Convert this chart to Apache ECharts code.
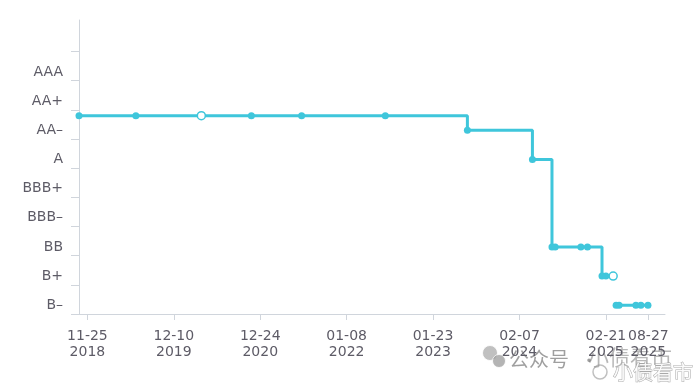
<!DOCTYPE html>
<html>
<head>
<meta charset="utf-8">
<script src="https://cdn.jsdelivr.net/npm/echarts@6/dist/echarts.min.js"></script>
<style>html,body{margin:0;padding:0;background:#fff;}#c{width:700px;height:386px;}</style>
</head>
<body>
<div id="c"></div>
<script>
// ---- data ----
const ratingScale = { 'B-': 1, 'B+': 2, 'BB': 3, 'BBB-': 4, 'BBB+': 5, 'A': 6, 'AA-': 7, 'AA': 7.5, 'AA+': 8, 'AAA': 9 };
const yLabelValues = [1, 2, 3, 4, 5, 6, 7, 8, 9];
const yLabelNames = ['B–', 'B+', 'BB', 'BBB–', 'BBB+', 'A', 'AA–', 'AA+', 'AAA'];
const yTickValues = [0.7, 1.7, 2.7, 3.7, 4.7, 5.7, 6.7, 7.7, 8.7, 9.7];
const xTickDates = ['2018-11-25', '2019-12-10', '2020-12-24', '2022-01-08', '2023-01-23', '2024-02-07', '2025-02-21', '2025-08-27'];

const dates1 = ['2018-10-19', '2019-06-26', '2020-04-09', '2020-11-15', '2021-06-24', '2022-06-27', '2023-06-23', '2024-04-04', '2024-06-29', '2024-07-13', '2024-11-03', '2024-12-02', '2025-02-04', '2025-02-21', '2025-03-25'];
const ratings1 = ['AA', 'AA', 'AA', 'AA', 'AA', 'AA', 'AA-', 'A', 'BB', 'BB', 'BB', 'BB', 'B+', 'B+', 'B+'];
const hollow1 = [2, 14];
const dates2 = ['2025-04-07', '2025-04-20', '2025-07-03', '2025-07-25', '2025-08-25'];
const ratings2 = ['B-', 'B-', 'B-', 'B-', 'B-'];
const axisMinDate = '2018-10-19';
const axisMaxDate = '2025-11-08';

// ---- chart ----
const C = '#3fc6db';
const LABEL = '#5d5b66';
const AX = '#d0d5dc';
const FONT = '"DejaVu Sans", sans-serif';
const CJK = '"Noto Sans CJK SC", sans-serif';
const ts = s => { const [y, m, d] = s.split('-').map(Number); return Date.UTC(y, m - 1, d); };
const pad = n => (n < 10 ? '0' : '') + n;

function build(dates, ratings, hollow) {
  return dates.map((d, i) => {
    const item = { value: [ts(d), ratingScale[ratings[i]]] };
    if (hollow && hollow.indexOf(i) >= 0) {
      item.symbolSize = 8;
      item.itemStyle = { color: '#fff', borderColor: C, borderWidth: 1.5 };
    }
    return item;
  });
}

const chart = echarts.init(document.getElementById('c'), null, { renderer: 'canvas' });
chart.setOption({
  backgroundColor: '#fff',
  animation: false,
  grid: { left: 79, right: 35, top: 20, bottom: 72, containLabel: false },
  xAxis: {
    type: 'value',
    min: ts(axisMinDate),
    max: ts(axisMaxDate),
    splitLine: { show: false },
    axisLine: { lineStyle: { color: AX, width: 1 } },
    axisTick: { show: true, length: 6, lineStyle: { color: AX }, customValues: xTickDates.map(ts) },
    axisLabel: {
      customValues: xTickDates.map(ts),
      margin: 14,
      color: LABEL,
      fontSize: 14,
      lineHeight: 16,
      fontFamily: FONT,
      hideOverlap: false,
      formatter: v => { const d = new Date(v); return pad(d.getUTCMonth() + 1) + '-' + pad(d.getUTCDate()) + '\n' + d.getUTCFullYear(); }
    }
  },
  yAxis: {
    type: 'value',
    min: 0.7,
    max: 10.78,
    splitLine: { show: false },
    axisLine: { show: true, lineStyle: { color: AX, width: 1 } },
    axisTick: { show: true, length: 8, lineStyle: { color: AX }, customValues: yTickValues },
    axisLabel: {
      customValues: yLabelValues,
      margin: 16,
      color: LABEL,
      fontSize: 14,
      fontFamily: FONT,
      formatter: v => { const i = yLabelValues.indexOf(Math.round(v)); return i >= 0 ? yLabelNames[i] : ''; }
    }
  },
  series: [
    {
      type: 'line', step: 'end', clip: false, data: build(dates1, ratings1, hollow1),
      symbol: 'circle', symbolSize: 7,
      lineStyle: { color: C, width: 3 }, itemStyle: { color: C }
    },
    {
      type: 'line', clip: false, data: build(dates2, ratings2, null),
      symbol: 'circle', symbolSize: 7,
      lineStyle: { color: C, width: 3 }, itemStyle: { color: C }
    }
  ],
  graphic: [
    { type: 'circle', shape: { cx: 490, cy: 353, r: 7.5 }, style: { fill: 'rgba(140,140,140,0.55)', stroke: 'rgba(255,255,255,0.8)', lineWidth: 1 } },
    { type: 'circle', shape: { cx: 499, cy: 361, r: 6.5 }, style: { fill: 'rgba(130,130,130,0.6)', stroke: 'rgba(255,255,255,0.8)', lineWidth: 1 } },
    { type: 'text', x: 509, y: 359, style: { text: '公众号', verticalAlign: 'middle', fill: 'rgba(95,95,95,0.6)', font: '20px ' + CJK } },
    { type: 'text', x: 581, y: 360, style: { text: '·', verticalAlign: 'middle', fill: 'rgba(95,95,95,0.6)', font: '16px ' + CJK } },
    { type: 'text', x: 588, y: 357, style: { text: '小债看市', verticalAlign: 'middle', fill: 'rgba(95,95,95,0.45)', font: '21px ' + CJK } },
    { type: 'circle', shape: { cx: 600, cy: 372, r: 7 }, style: { fill: 'none', stroke: 'rgba(150,150,150,0.6)', lineWidth: 1.5 } },
    { type: 'text', x: 613, y: 372, style: { text: '小债看市', verticalAlign: 'middle', fill: 'rgba(255,255,255,0.9)', stroke: 'rgba(140,140,140,0.75)', lineWidth: 1, font: '20px ' + CJK } }
  ]
});
</script>
</body>
</html>
